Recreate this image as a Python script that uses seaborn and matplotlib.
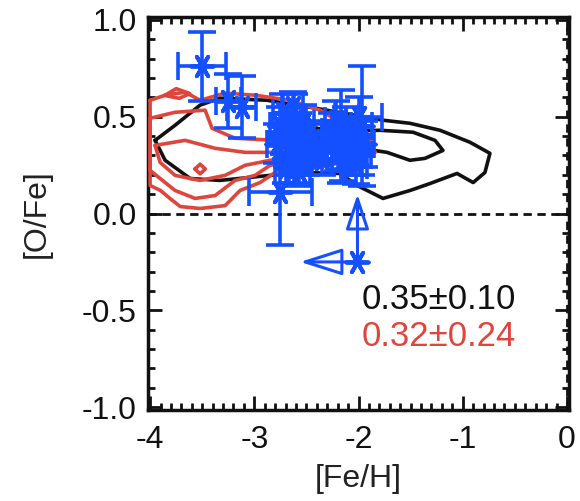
import numpy as np
import pandas as pd
import matplotlib
matplotlib.use("Agg")
import matplotlib.pyplot as plt
import seaborn as sns

# ---------------- data ----------------
# blue stars: [Fe/H], [O/Fe] and errors
feh = [-3.50, -3.25, -3.12, -2.75,
       -2.62, -2.70, -2.55, -2.65, -2.75, -2.58, -2.68, -2.60, -2.72, -2.50,
       -2.78, -2.63, -2.53, -2.70, -2.57,
       -2.40, -2.30, -2.35, -2.45,
       -2.17, -1.97, -2.00, -2.10, -2.05, -2.20, -1.95, -2.12, -2.02,
       -2.25, -2.15, -2.05, -1.98, -2.22]
ofe = [0.76, 0.58, 0.55, 0.11,
       0.48, 0.40, 0.36, 0.30, 0.45, 0.42, 0.35, 0.26, 0.52, 0.30,
       0.36, 0.55, 0.46, 0.24, 0.22,
       0.33, 0.36, 0.28, 0.38,
       0.40, 0.45, 0.50, 0.35, 0.30, 0.32, 0.36, 0.45, 0.25,
       0.42, 0.27, 0.40, 0.30, 0.48]
feh_err = [0.23, 0.12, 0.14, 0.30,
           0.12, 0.10, 0.10, 0.12, 0.10, 0.10, 0.10, 0.10, 0.10, 0.10,
           0.10, 0.10, 0.10, 0.10, 0.10,
           0.10, 0.10, 0.10, 0.10,
           0.10, 0.10, 0.23, 0.10, 0.12, 0.10, 0.10, 0.10, 0.10,
           0.10, 0.10, 0.10, 0.10, 0.10]
ofe_err = [0.18, 0.14, 0.16, 0.27,
           0.14, 0.12, 0.12, 0.10, 0.10, 0.10, 0.12, 0.10, 0.10, 0.10,
           0.10, 0.08, 0.10, 0.08, 0.08,
           0.08, 0.10, 0.08, 0.10,
           0.24, 0.31, 0.10, 0.12, 0.10, 0.10, 0.12, 0.10, 0.10,
           0.10, 0.10, 0.10, 0.10, 0.10]

# limit point (upper/lower limit arrows)
lim_feh = [-2.01]
lim_ofe = [-0.25]
lim_up_to = [0.10]
lim_left_to = [-2.56]

# black contours (field stars)
blk_outer_x = [-3.952, -3.76, -3.52, -3.33, -2.878, -2.465, -1.765, -1.506, -1.218, -0.93,
               -0.739, -0.787, -0.90, -1.055, -1.314, -1.506, -1.765, -2.014, -2.177,
               -2.561, -2.945, -3.329, -3.616, -3.856]
blk_outer_y = [0.378, 0.456, 0.56, 0.596, 0.585, 0.549, 0.482, 0.466, 0.43, 0.368,
               0.311, 0.212, 0.16, 0.207, 0.155, 0.119, 0.078, 0.145, 0.207,
               0.212, 0.192, 0.171, 0.181, 0.275]
blk_inner_x = [-2.40, -2.177, -1.794, -1.477, -1.266, -1.19, -1.362, -1.506, -1.727, -1.986, -2.177, -2.40]
blk_inner_y = [0.44, 0.425, 0.43, 0.42, 0.378, 0.326, 0.285, 0.275, 0.316, 0.337, 0.36, 0.40]

# red contours (comparison sample)
red_l1_x = [-4.0, -3.856, -3.664, -3.52, -3.28, -2.99, -2.657, -2.37, -2.13, -1.89, -1.84,
            -2.08, -2.37, -2.61, -2.80, -2.945, -3.137, -3.28, -3.52, -3.71, -3.81, -3.90, -4.0]
red_l1_y = [0.585, 0.611, 0.627, 0.585, 0.622, 0.611, 0.585, 0.534, 0.456, 0.378, 0.316,
            0.275, 0.238, 0.223, 0.212, 0.16, 0.119, 0.041, 0.026, 0.036, 0.078, 0.119, 0.145]
red_l2_x = [-4.0, -3.76, -3.472, -3.405, -3.185, -2.80, -2.37, -2.034, -2.177, -2.561,
            -2.849, -2.993, -3.185, -3.376, -3.568, -3.76, -3.904, -4.0]
red_l2_y = [0.492, 0.523, 0.534, 0.44, 0.389, 0.378, 0.352, 0.326, 0.285, 0.275,
            0.249, 0.197, 0.171, 0.093, 0.078, 0.119, 0.181, 0.223]
red_l3_x = [-3.952, -3.664, -3.376, -3.089, -2.753, -2.561, -2.849, -3.089, -3.281, -3.52,
            -3.76, -3.904, -3.952]
red_l3_y = [0.352, 0.378, 0.337, 0.316, 0.316, 0.295, 0.275, 0.249, 0.197, 0.171,
            0.197, 0.264, 0.352]
red_lobe_x = [-3.86, -3.75, -3.62, -3.72, -3.86]
red_lobe_y = [0.61, 0.645, 0.62, 0.595, 0.61]
red_ring_x = [-3.57, -3.52, -3.47, -3.52, -3.57]
red_ring_y = [0.23, 0.255, 0.23, 0.205, 0.23]

stat_labels = ["0.35\u00b10.10", "0.32\u00b10.24"]

xticks = [-4, -3, -2, -1, 0]
yticks = [-1.0, -0.5, 0.0, 0.5, 1.0]

# ---------------- style ----------------
sns.set_theme(style="ticks")
plt.rcParams["font.family"] = ["Liberation Sans", "DejaVu Sans"]

BLUE = "#1450ff"
RED = "#e0453c"
BLACK = "#111111"

fig = plt.figure(figsize=(5.8, 5.01), dpi=100)
ax = fig.add_axes([0.2552, 0.1816, 0.7259, 0.7844])


def loop(xs, ys, color, lw=2.2, z=2):
    d = pd.DataFrame({"x": list(xs) + [xs[0]], "y": list(ys) + [ys[0]]})
    sns.lineplot(data=d, x="x", y="y", sort=False, estimator=None, ax=ax,
                 color=color, lw=lw, zorder=z)


loop(blk_outer_x, blk_outer_y, BLACK, 2.6, 2)
loop(blk_inner_x, blk_inner_y, BLACK, 2.6, 2)
for xs, ys in [(red_l1_x, red_l1_y), (red_l2_x, red_l2_y), (red_l3_x, red_l3_y),
               (red_lobe_x, red_lobe_y), (red_ring_x, red_ring_y)]:
    loop(xs, ys, RED, 2.6, 3)

# reference lines
ax.axhline(0.0, color=BLACK, lw=2, ls=(0, (3, 2)), zorder=1)
ax.axvline(0.0, color=BLACK, lw=2, ls=(0, (3, 2)), zorder=1)

# error bars
ax.errorbar(feh, ofe, xerr=feh_err, yerr=ofe_err, fmt="none", ecolor=BLUE,
            elinewidth=2.6, capsize=10, capthick=2.6, zorder=5)
stars = pd.DataFrame({"feh": feh + lim_feh, "ofe": ofe + lim_ofe})
sns.scatterplot(data=stars, x="feh", y="ofe", marker=(6, 2, 90), s=260,
                color=BLUE, linewidth=2.8, ax=ax, zorder=6)

# limit arrows
for fx, fy, up, left in zip(lim_feh, lim_ofe, lim_up_to, lim_left_to):
    ax.annotate("", xy=(fx, up), xytext=(fx, fy),
                arrowprops=dict(arrowstyle="-|>,head_length=1.8,head_width=0.6",
                                color=BLUE, lw=2.2, fill=False, shrinkA=0, shrinkB=0),
                zorder=6)
    ax.annotate("", xy=(left, fy), xytext=(fx, fy),
                arrowprops=dict(arrowstyle="-|>,head_length=2.2,head_width=0.7",
                                color=BLUE, lw=2.2, fill=False, shrinkA=0, shrinkB=0),
                zorder=6)

# stats text
ax.text(-1.97, -0.445, stat_labels[0], color=BLACK, fontsize=25, va="center", ha="left")
ax.text(-1.97, -0.635, stat_labels[1], color=RED, fontsize=25, va="center", ha="left")

# axes
ax.set_xlim(-4.02, 0.02)
ax.set_ylim(-1.015, 1.015)
ax.set_xticks(xticks)
ax.set_xticklabels([str(t) for t in xticks])
ax.set_yticks(yticks)
ax.set_yticklabels([f"{t:.1f}" for t in yticks])
ax.xaxis.set_minor_locator(matplotlib.ticker.MultipleLocator(0.1))
ax.yaxis.set_minor_locator(matplotlib.ticker.MultipleLocator(0.1))
ax.tick_params(which="both", direction="in", top=True, right=True, width=2, colors=BLACK)
ax.tick_params(which="major", length=10, labelsize=23)
ax.tick_params(axis="x", which="major", pad=11)
ax.tick_params(axis="y", which="major", pad=8)
ax.tick_params(which="minor", length=5)
for s in ax.spines.values():
    s.set_linewidth(2.5)
    s.set_color(BLACK)
    s.set_visible(True)
ax.set_xlabel("[Fe/H]", fontsize=23, labelpad=6, color="#222222")
ax.set_ylabel("[O/Fe]", fontsize=23, labelpad=22, color="#222222")
ax.set_facecolor("white")

fig.savefig("out.png", dpi=100, facecolor="white")
